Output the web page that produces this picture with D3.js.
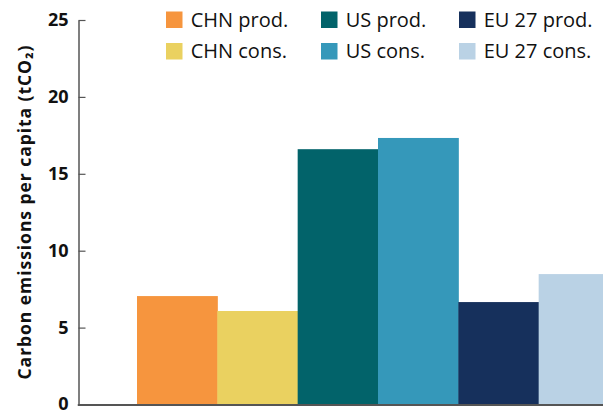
<!DOCTYPE html>
<html><head><meta charset="utf-8">
<script src="https://cdn.jsdelivr.net/npm/d3@7"></script>
<style>body{margin:0;background:#fff;}svg{display:block;}</style>
</head><body>
<svg id="c" width="603" height="413"></svg>
<script>
const categories = ["CHN prod.","CHN cons.","US prod.","US cons.","EU 27 prod.","EU 27 cons."];
const values = [7.05, 6.08, 16.6, 17.33, 6.66, 8.48];
const colors = ["#f6953e","#ead160","#02636a","#3598ba","#16305c","#bad2e5"];
const yTicks = [0,5,10,15,20,25];
const legendRows = [["CHN prod.","US prod.","EU 27 prod."],["CHN cons.","US cons.","EU 27 cons."]];

const svg = d3.select("#c");
const font = "'Open Sans', sans-serif";
const x = d3.scaleBand().domain(categories).range([137, 619]).padding(0);
const y = d3.scaleLinear().domain([0,25]).range([404.5, 20]);
const color = d3.scaleOrdinal().domain(categories).range(colors);

svg.selectAll("rect.bar").data(categories).join("rect")
  .attr("class","bar")
  .attr("x", d => x(d))
  .attr("width", x.bandwidth()+0.5)
  .attr("y", (d,i) => y(values[i]))
  .attr("height", (d,i) => y(0) - y(values[i]) + 0.5)
  .attr("fill", d => color(d));

// axes
const yAxis = d3.axisLeft(y).tickValues(yTicks).tickSize(-7).tickPadding(10).tickSizeOuter(0);
const gy = svg.append("g").attr("transform","translate(78.5,0)").call(yAxis);
gy.select(".domain").attr("stroke","#555").attr("stroke-width",1.5);
gy.selectAll(".tick line").attr("stroke","#555").attr("stroke-width",1.2);
gy.selectAll(".tick text").attr("font-family",font).attr("font-weight","bold")
  .attr("font-size",18).attr("fill","#111").attr("dy","0.3em");

svg.append("line").attr("x1",77.75).attr("x2",603).attr("y1",405).attr("y2",405)
  .attr("stroke","#555").attr("stroke-width",2);

svg.append("text")
  .attr("transform","translate(24,212.5) rotate(-90)")
  .attr("text-anchor","middle").attr("dominant-baseline","central")
  .attr("font-family",font).attr("font-weight","bold").attr("font-size",17.5).attr("fill","#111")
  .attr("textLength",334).attr("lengthAdjust","spacing")
  .text("Carbon emissions per capita (tCO₂)");

// legend
const colX = [166, 321, 459];
const rowY = [11.5, 43];
legendRows.forEach((row, r) => {
  row.forEach((name, c) => {
    const g = svg.append("g").attr("transform",`translate(${colX[c]},${rowY[r]})`);
    g.append("rect").attr("width",16.5).attr("height",16.5).attr("fill",color(name));
    g.append("text").attr("x",24.7).attr("y",15.4)
      .attr("font-family",font).attr("font-size",20).attr("fill","#111").text(name);
  });
});
</script>
</body></html>
